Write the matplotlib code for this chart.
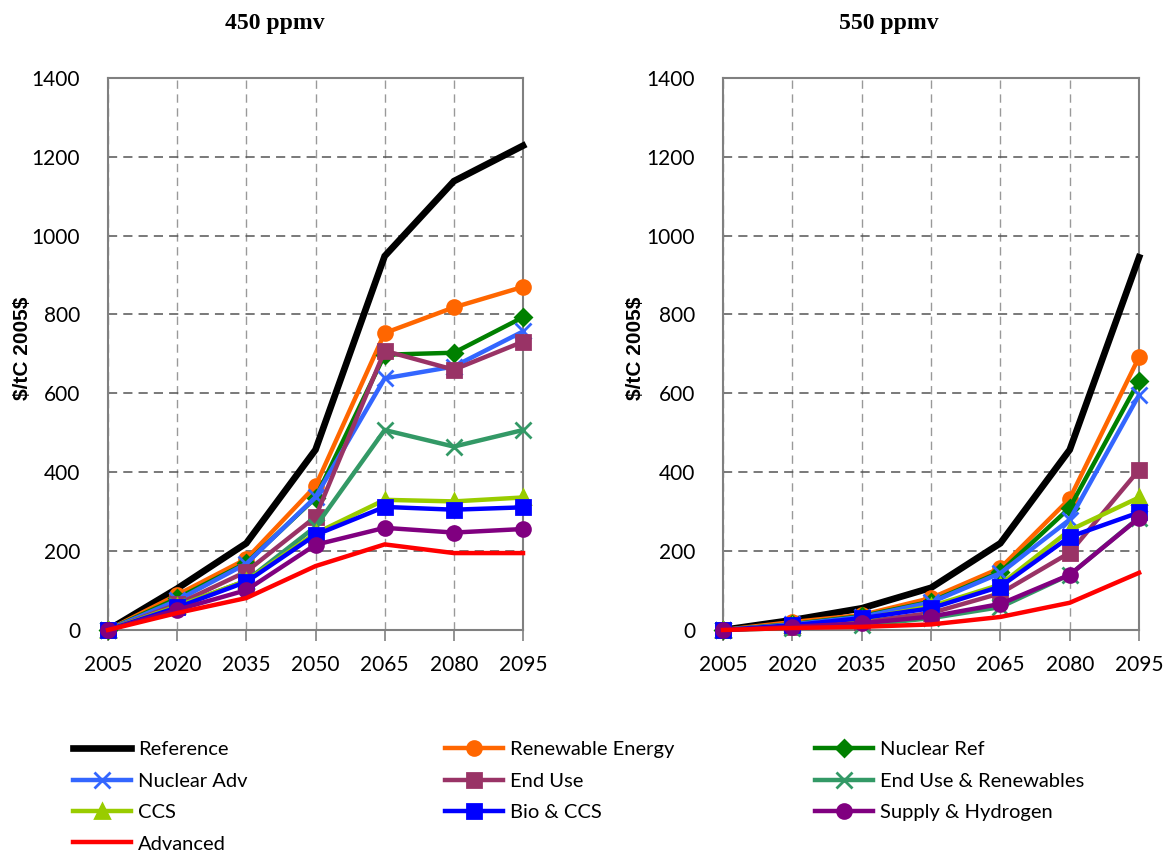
import matplotlib
matplotlib.use('Agg')
import matplotlib.pyplot as plt

years = [2005, 2020, 2035, 2050, 2065, 2080, 2095]
series_names = ['Reference', 'Renewable Energy', 'Nuclear Ref', 'Nuclear Adv', 'End Use',
                'End Use & Renewables', 'CCS', 'Bio & CCS', 'Supply & Hydrogen', 'Advanced']

# $/tC 2005$, 450 ppmv
ppm450 = {
    'Reference':            [0, 105, 220, 457, 948, 1138, 1228],
    'Renewable Energy':     [0, 89, 180, 365, 753, 818, 870],
    'Nuclear Ref':          [0, 80, 170, 335, 698, 703, 793],
    'Nuclear Adv':          [0, 75, 168, 337, 638, 668, 757],
    'End Use':              [0, 65, 148, 287, 708, 660, 731],
    'End Use & Renewables': [0, 60, 125, 262, 507, 465, 507],
    'CCS':                  [0, 60, 125, 245, 330, 326, 336],
    'Bio & CCS':            [0, 57, 122, 241, 312, 305, 311],
    'Supply & Hydrogen':    [0, 51, 101, 216, 259, 247, 256],
    'Advanced':             [0, 43, 81, 162, 217, 195, 195],
}

# $/tC 2005$, 550 ppmv
ppm550 = {
    'Reference':            [0, 25, 55, 107, 220, 457, 945],
    'Renewable Energy':     [0, 20, 38, 81, 157, 333, 692],
    'Nuclear Ref':          [0, 15, 35, 72, 147, 310, 632],
    'Nuclear Adv':          [0, 14, 33, 70, 144, 280, 596],
    'End Use':              [0, 8, 20, 43, 93, 196, 406],
    'End Use & Renewables': [0, 5, 12, 30, 58, 140, 285],
    'CCS':                  [0, 12, 28, 60, 115, 253, 336],
    'Bio & CCS':            [0, 12, 30, 55, 110, 236, 298],
    'Supply & Hydrogen':    [0, 8, 17, 34, 66, 140, 284],
    'Advanced':             [0, 5, 8, 14, 33, 69, 145],
}

styles = {
    'Reference':            dict(color='#000000', marker=None, lw=4.8),
    'Renewable Energy':     dict(color='#ff6600', marker='o', lw=3.2),
    'Nuclear Ref':          dict(color='#008000', marker='D', lw=3.2),
    'Nuclear Adv':          dict(color='#3366ff', marker='x', lw=3.2),
    'End Use':              dict(color='#993366', marker='s', lw=3.2),
    'End Use & Renewables': dict(color='#339966', marker='x', lw=3.2),
    'CCS':                  dict(color='#99cc00', marker='^', lw=3.2),
    'Bio & CCS':            dict(color='#0000ff', marker='s', lw=3.2),
    'Supply & Hydrogen':    dict(color='#800080', marker='o', lw=3.2),
    'Advanced':             dict(color='#ff0000', marker=None, lw=3.2),
}

plt.rcParams['font.family'] = ['Lato', 'DejaVu Sans']

fig = plt.figure(figsize=(11.69, 8.52), dpi=100)
ax1 = fig.add_axes([0.0924, 0.2606, 0.355, 0.648])
ax2 = fig.add_axes([0.6185, 0.2606, 0.3559, 0.648])

handles = []
for ax, data in [(ax1, ppm450), (ax2, ppm550)]:
    for name in series_names:
        st = styles[name]
        ms = 10
        if st['marker'] == 'x':
            ms = 12
        elif st['marker'] == 'D':
            ms = 8
        ln, = ax.plot(years, data[name], color=st['color'], lw=st['lw'],
                      marker=st['marker'], markersize=ms, mew=2,
                      solid_joinstyle='miter', label=name, clip_on=False, zorder=3)
        if ax is ax1:
            handles.append(ln)
    ax.set_xlim(2005, 2095)
    ax.set_ylim(0, 1400)
    ax.set_xticks(years)
    ax.set_yticks(range(0, 1401, 200))
    ax.tick_params(axis='x', direction='out', length=8, width=1.2, color='#808080',
                   labelsize=15, pad=10)
    ax.tick_params(axis='y', length=0, labelsize=15, pad=20)
    for sp in ax.spines.values():
        sp.set_color('#808080')
        sp.set_linewidth(1.5)
    ax.grid(axis='y', linestyle=(0, (6, 4)), color='#555555', lw=1.1)
    ax.grid(axis='x', linestyle=(0, (6, 4)), color='#999999', lw=1.0)
    ax.set_axisbelow(True)

fig.text(0.235, 0.973, '450 ppmv', ha='center', va='center', fontsize=17,
         fontweight='bold', family='Liberation Serif')
fig.text(0.760, 0.973, '550 ppmv', ha='center', va='center', fontsize=17,
         fontweight='bold', family='Liberation Serif')
fig.text(0.019, 0.591, r'\$/tC 2005\$', rotation=90, ha='center', va='center',
         fontsize=15, fontweight='bold', family='Liberation Sans')
fig.text(0.544, 0.591, r'\$/tC 2005\$', rotation=90, ha='center', va='center',
         fontsize=15, fontweight='bold', family='Liberation Sans')

# three legend columns, each placed on its own
columns = [[0, 3, 6, 9], [1, 4, 7], [2, 5, 8]]
col_x = [0.0624, 0.3807, 0.6972]
for idx, x in zip(columns, col_x):
    leg = fig.legend([handles[i] for i in idx], [series_names[i] for i in idx],
                     loc='upper left', bbox_to_anchor=(x, 0.130),
                     frameon=False, fontsize=14.5, handlelength=2.9, handletextpad=0.35,
                     labelspacing=0.71, borderpad=0, borderaxespad=0)

fig.savefig('out.png', dpi=100)
